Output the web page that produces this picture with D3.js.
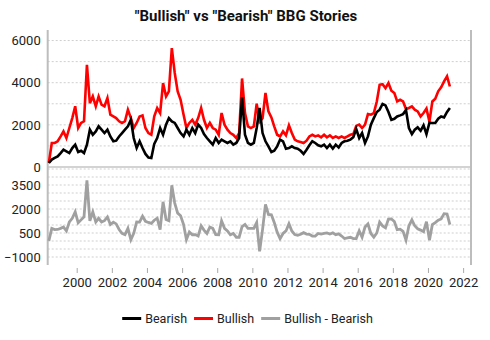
<!DOCTYPE html>
<html>
<head>
<meta charset="utf-8">
<script src="https://cdn.jsdelivr.net/npm/d3@7"></script>
<style>
  body { margin: 0; background: #fff; }
  text { font-family: Roboto, "Noto Sans", Arial, sans-serif; }
</style>
</head>
<body>
<svg id="chart" width="490" height="340"></svg>
<script>
// Monthly story counts, one reading every two months from June 1998
const bearish = [
  190, 350, 430, 500, 660, 820, 740, 660, 900, 1060,
  710, 770, 660, 1060, 1770, 1530, 1690, 1930, 1770, 1610,
  1770, 1450, 1220, 1250, 1450, 1610, 1770, 1930, 2240, 1375,
  900, 1220, 900, 620, 450, 430, 1100, 1375, 1850, 1530,
  2010, 2320, 2160, 2090, 1850, 1610, 1450, 1770, 1530, 1850,
  1610, 2010, 1850, 1560, 1375, 1220, 1060, 1375, 1140, 1300,
  1220, 1140, 1220, 1060, 1140, 1375, 3300, 1530, 1140, 1060,
  1140, 1850, 2800, 1610, 1220, 980, 710, 770, 980, 1300,
  1220, 870, 900, 980, 900, 870, 770, 620, 820, 1030,
  1220, 1140, 1030, 980, 1060, 900, 1060, 870, 1060, 930,
  1140, 1220, 1250, 1300, 1410, 1800, 1375, 1610, 1140, 1450,
  2010, 2320, 2610, 2720, 2990, 2920, 2610, 2240, 2290, 2400,
  2450, 2510, 2700, 1850, 1560, 1770, 1880, 1720, 1980, 1560,
  2100, 2090, 2090, 2290, 2400, 2350, 2610, 2800
];
const bullish = [
  200, 1140, 1140, 1220, 1450, 1690, 1375, 1850, 2320, 2880,
  1850, 2090, 2170, 4850, 3030, 3350, 2880, 3350, 2960, 2880,
  3270, 2480, 2400, 2320, 2170, 2090, 2170, 2720, 2320, 1850,
  2090, 2400, 2450, 1850, 1610, 1530, 2400, 2800, 2560, 3980,
  3350, 3590, 5640, 4460, 3590, 3190, 2480, 1850, 2090, 2240,
  2010, 2320, 2800, 2240, 1850, 2090, 1850, 1770, 1530, 2560,
  2010, 1770, 1610, 1530, 1375, 1610, 4200, 2560, 1930, 1850,
  1930, 3000, 2150, 2320, 3510, 2640, 2350, 1930, 1530, 1450,
  1690, 1500, 1980, 1610, 1300, 1220, 1190, 1140, 1250, 1450,
  1530, 1450, 1500, 1410, 1530, 1410, 1500, 1375, 1450, 1375,
  1450, 1375, 1450, 1530, 1560, 1950, 2010, 1850, 2010, 2510,
  2480, 2560, 3110, 3900, 3930, 3740, 3980, 3620, 3510, 3110,
  3190, 3110, 2750, 2800, 2880, 2720, 2640, 2400, 2560, 2770,
  2150, 3110, 3240, 3590, 3780, 4060, 4300, 3820
];
const firstMonth = new Date(1998, 5, 1);
const dates = bearish.map((_, i) => d3.timeMonth.offset(firstMonth, 2 * i));
const spread = bullish.map((v, i) => v - bearish[i]);

const countTicks = [0, 2000, 4000, 6000];
const spreadTicks = [-1000, 500, 2000, 3500];
const yearTicks = [2000, 2002, 2004, 2006, 2008, 2010, 2012, 2014, 2016, 2018, 2020, 2022];
const seriesNames = ["Bearish", "Bullish", "Bullish - Bearish"];
const seriesColors = ["#000000", "#ff0000", "#a0a0a0"];
const chartTitle = "\"Bullish\" vs \"Bearish\" BBG Stories";

const svg = d3.select("#chart");
const left = 47.7, right = 471, plotTop = 30, plotBottom = 265;

const x = d3.scaleTime()
  .domain([new Date(1998, 4, 8), new Date(2022, 5, 14)])
  .range([left, right]);
const yTop = d3.scaleLinear().domain([0, 6500]).range([167, plotTop]);
const yBot = d3.scaleLinear().domain([-1500, 4500]).range([plotBottom, 169]);

// title
svg.append("text")
  .attr("x", 246).attr("y", 21)
  .attr("text-anchor", "middle")
  .attr("font-size", 15).attr("font-weight", "bold").attr("fill", "#111")
  .text(chartTitle);

// gridlines
const grid = svg.append("g");
grid.selectAll(".gt").data(d3.range(1000, 6001, 1000)).join("line")
  .attr("x1", left).attr("x2", right)
  .attr("y1", d => yTop(d)).attr("y2", d => yTop(d))
  .attr("stroke", "#cfcfcf").attr("stroke-width", 1).attr("stroke-dasharray", "2,2");
grid.selectAll(".gb").data(d3.range(-1000, 4501, 500)).join("line")
  .attr("x1", left).attr("x2", right)
  .attr("y1", d => yBot(d)).attr("y2", d => yBot(d))
  .attr("stroke", "#cfcfcf").attr("stroke-width", 1).attr("stroke-dasharray", "2,2");
grid.append("line")
  .attr("x1", left).attr("x2", right)
  .attr("y1", yTop(0)).attr("y2", yTop(0))
  .attr("stroke", "#c4c4c4").attr("stroke-width", 1.5);

// frame sides
[left, right].forEach(px => {
  svg.append("line")
    .attr("x1", px).attr("x2", px).attr("y1", plotTop).attr("y2", plotBottom)
    .attr("stroke", "#bdbdbd").attr("stroke-width", 2);
});

// y axes
function styleAxis(g) {
  g.select(".domain").remove();
  g.selectAll("text").attr("font-size", 13).attr("fill", "#222")
    .attr("font-family", "Roboto, 'Noto Sans', Arial, sans-serif");
}
svg.append("g").attr("transform", `translate(${left},0)`)
  .call(d3.axisLeft(yTop).tickValues(countTicks).tickFormat(d3.format("d")).tickSize(0).tickPadding(7))
  .call(styleAxis);
svg.append("g").attr("transform", `translate(${left},0)`)
  .call(d3.axisLeft(yBot).tickValues(spreadTicks).tickFormat(d3.format("d")).tickSize(0).tickPadding(7))
  .call(styleAxis);

// x axis
const xAxis = svg.append("g").attr("transform", "translate(0,268)")
  .call(d3.axisBottom(x)
    .tickValues(yearTicks.map(yv => new Date(yv, 0, 1)))
    .tickFormat(d3.timeFormat("%Y"))
    .tickSize(5).tickPadding(5))
  .call(styleAxis);
xAxis.selectAll(".tick line").attr("stroke", "#aaa");

// series lines
const lineTop = d3.line().x((d, i) => x(dates[i])).y(d => yTop(d));
const lineBot = d3.line().x((d, i) => x(dates[i])).y(d => yBot(d));

svg.append("path").datum(bullish).attr("d", lineTop)
  .attr("fill", "none").attr("stroke", seriesColors[1]).attr("stroke-width", 2.6);
svg.append("path").datum(bearish).attr("d", lineTop)
  .attr("fill", "none").attr("stroke", seriesColors[0]).attr("stroke-width", 2.6);
svg.append("path").datum(spread).attr("d", lineBot)
  .attr("fill", "none").attr("stroke", seriesColors[2]).attr("stroke-width", 2.8);

// legend
const legend = svg.append("g");
let cursor = 0;
seriesNames.forEach((name, i) => {
  const item = legend.append("g").attr("transform", `translate(${cursor},0)`);
  item.append("line").attr("x1", 0).attr("x2", 19).attr("y1", 318.5).attr("y2", 318.5)
    .attr("stroke", seriesColors[i]).attr("stroke-width", 3);
  const t = item.append("text").attr("x", 23).attr("y", 322.5)
    .attr("font-size", 12.5).attr("fill", "#222").text(name);
  cursor += 23 + t.node().getComputedTextLength() + 7;
});
const legendWidth = cursor - 7;
legend.attr("transform", `translate(${247.5 - legendWidth / 2},0)`);
</script>
</body>
</html>
